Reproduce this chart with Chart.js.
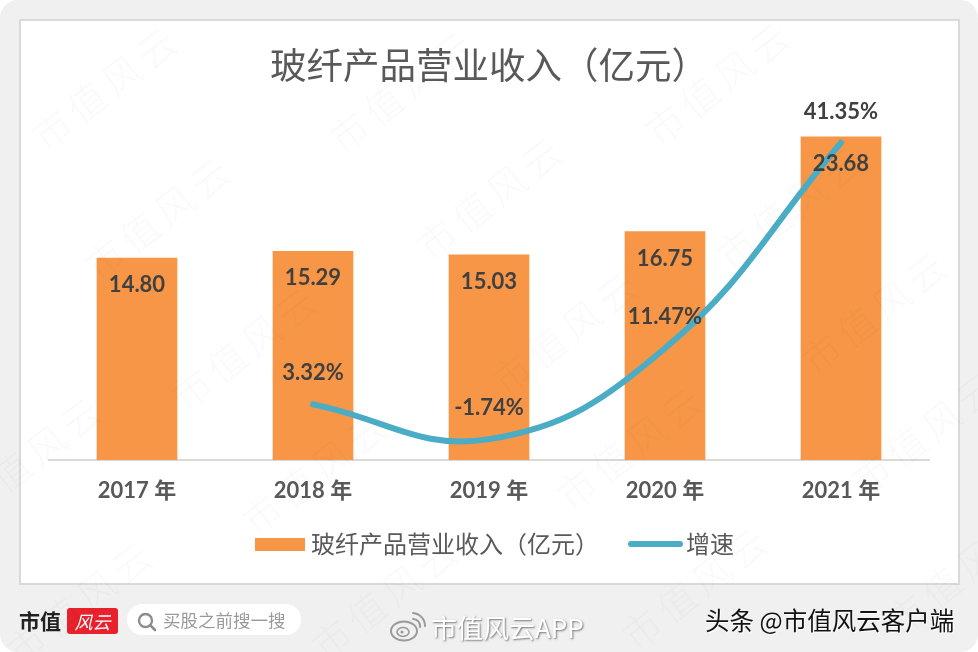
<!DOCTYPE html>
<html lang="zh-CN">

<head>
    <meta charset="UTF-8">
    <title>玻纤产品营业收入</title>
    <script src="https://cdn.jsdelivr.net/npm/chart.js"></script>
    <style>
        html, body { margin: 0; padding: 0; background: #fff; }
        #page { position: relative; width: 978px; height: 652px; overflow: hidden; background: #f0f0f0; border-radius: 18px; font-family: "Noto Sans CJK SC", sans-serif; }
        #panel { position: absolute; left: 19px; top: 19px; width: 937px; height: 562px; background: #fff; border: 2px solid #d9d9d9; }
        canvas { position: absolute; left: 0; top: 0; }
        .abs { position: absolute; white-space: nowrap; }
        .mark { position: absolute; font-size: 38px; font-weight: 300; letter-spacing: 6px; color: rgba(0, 0, 0, 0.025); transform: translate(-50%, -50%) rotate(-38deg); white-space: nowrap; pointer-events: none; }
    </style>
</head>

<body>
    <div id="page">
        <div id="panel"></div>
        <canvas id="chart" width="978" height="652"></canvas>

        <!-- legend -->
        <div class="abs" style="left:255px;top:538px;width:50px;height:13px;background:#f79646"></div>
        <div class="abs" style="left:311px;top:527px;font-size:24px;line-height:32px;color:#595959">玻纤产品营业收入（亿元）</div>
        <div class="abs" style="left:628px;top:541px;width:55px;height:6px;border-radius:3px;background:#4bacc6"></div>
        <div class="abs" style="left:686px;top:527px;font-size:24px;line-height:32px;color:#595959">增速</div>

        <!-- footer -->
        <div class="abs" style="left:19px;top:604px;font-size:21px;line-height:32px;font-weight:700;color:#222">市值</div>
        <div class="abs" style="left:67px;top:608px;width:51px;height:26px;background:#e8212d;border-radius:3px;color:#fff;font-size:18px;line-height:26px;font-style:italic;text-align:center">风云</div>
        <div class="abs" style="left:127px;top:604px;width:174px;height:31px;background:#fff;border-radius:16px"></div>
        <svg class="abs" style="left:136px;top:611px" width="22" height="22" viewBox="0 0 22 22">
            <circle cx="9.5" cy="9.5" r="6.5" fill="none" stroke="#8c8c8c" stroke-width="2.4" />
            <line x1="14.5" y1="14.5" x2="19" y2="19" stroke="#8c8c8c" stroke-width="2.6" stroke-linecap="round" />
        </svg>
        <div class="abs" style="left:163px;top:606px;font-size:17.5px;line-height:28px;color:#9a9a9a">买股之前搜一搜</div>
        <svg class="abs" style="left:389px;top:611px" width="38" height="32" viewBox="0 0 38 32">
            <ellipse cx="15" cy="20" rx="13" ry="9.5" fill="none" stroke="#9a9a9a" stroke-width="2" />
            <ellipse cx="14" cy="21" rx="6" ry="4.5" fill="none" stroke="#9a9a9a" stroke-width="1.6" />
            <circle cx="13" cy="21" r="1.6" fill="#9a9a9a" />
            <path d="M24 8 A7 7 0 0 1 31 16 M24 2 A13 13 0 0 1 36 15" fill="none" stroke="#9a9a9a" stroke-width="2" stroke-linecap="round" />
        </svg>
        <div class="abs" style="left:431px;top:611px;font-size:26px;line-height:32px;color:#fff;text-shadow:1px 1px 2px #777">市值风云APP</div>
        <div class="abs" style="left:705px;top:604px;font-size:24.5px;line-height:32px;color:#111;text-shadow:1px 1px 0 #fff">头条 @市值风云客户端</div>

        <div id="marks"></div>
    </div>

    <script>
        const categories = ['2017 年', '2018 年', '2019 年', '2020 年', '2021 年'];
        const revenue = [14.80, 15.29, 15.03, 16.75, 23.68];
        const growth = [null, 3.32, -1.74, 11.47, 41.35];
        const revenueName = '玻纤产品营业收入（亿元）';
        const growthName = '增速';
        const titleText = '玻纤产品营业收入（亿元）';

        // watermark centres
        const markSpots = [
            [105, 85], [402, 88], [718, 80],
            [158, 215], [490, 195], [790, 205],
            [245, 345], [565, 330], [875, 310],
            [30, 455], [315, 470], [630, 445], [925, 430],
            [80, 600], [385, 595], [695, 585], [960, 570]
        ];
        markSpots.forEach(function (p) {
            const el = document.createElement('div');
            el.className = 'mark';
            el.textContent = '市值风云';
            el.style.left = p[0] + 'px';
            el.style.top = p[1] + 'px';
            document.getElementById('marks').appendChild(el);
        });

        const numFont = 'Lato, "Noto Sans CJK SC", sans-serif';

        // value labels on top of everything
        const valueLabels = {
            id: 'valueLabels',
            afterDatasetsDraw(chart) {
                const ctx = chart.ctx;
                ctx.save();
                ctx.font = 'bold 22px ' + numFont;
                ctx.fillStyle = '#404040';
                ctx.textAlign = 'center';
                ctx.textBaseline = 'middle';
                chart.getDatasetMeta(0).data.forEach(function (bar, i) {
                    ctx.fillText(revenue[i].toFixed(2), bar.x, bar.y + 27);
                });
                chart.getDatasetMeta(1).data.forEach(function (pt, i) {
                    if (growth[i] === null) return;
                    ctx.fillText(growth[i].toFixed(2) + '%', pt.x, pt.y - 31);
                });
                ctx.restore();
            }
        };

        new Chart(document.getElementById('chart'), {
            type: 'bar',
            data: {
                labels: categories,
                datasets: [{
                    label: revenueName,
                    data: revenue,
                    backgroundColor: '#f79646',
                    barThickness: 80,
                    yAxisID: 'y',
                    order: 2
                }, {
                    type: 'line',
                    label: growthName,
                    data: growth,
                    borderColor: '#4bacc6',
                    borderWidth: 6,
                    borderCapStyle: 'round',
                    tension: 0.42,
                    pointRadius: 0,
                    yAxisID: 'y2',
                    order: 1
                }]
            },
            options: {
                responsive: false,
                animation: false,
                layout: { padding: { left: 49, right: 49, top: 43, bottom: 0 } },
                plugins: {
                    legend: { display: false },
                    tooltip: { enabled: false },
                    title: {
                        display: true,
                        text: titleText,
                        color: '#595959',
                        font: { family: '"Noto Sans CJK SC", sans-serif', size: 36.5, weight: 'normal', lineHeight: 1.2 },
                        padding: { top: 0, bottom: 13 }
                    }
                },
                scales: {
                    x: {
                        grid: { display: false, drawTicks: false },
                        border: { color: '#d9d9d9', width: 2 },
                        ticks: { color: '#595959', font: { family: numFont, size: 22, weight: 'bold' }, padding: 18 },
                        afterFit(scale) { scale.height = 192; }
                    },
                    y: { display: false, min: 0, max: 26.4 },
                    y2: { display: false, min: -4.77, max: 47.6 }
                }
            },
            plugins: [valueLabels]
        });
    </script>
</body>

</html>
